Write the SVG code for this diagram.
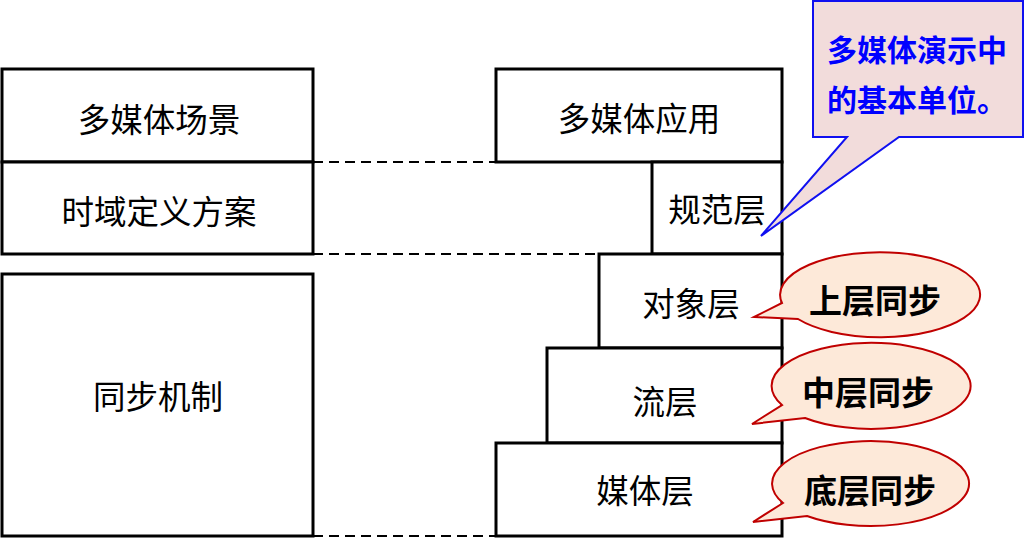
<svg xmlns="http://www.w3.org/2000/svg" width="1024" height="539" viewBox="0 0 1024 539">
<style>
.box{fill:#fff;stroke:#000;stroke-width:3}
.lbl{font-family:"Noto Sans CJK SC",sans-serif;font-size:32.5px;fill:#000;text-anchor:middle;dominant-baseline:central}
.dash{stroke:#000;stroke-width:2;stroke-dasharray:10 6;fill:none}
.bubble{fill:#FDE9D9;stroke:#C00000;stroke-width:2}
.btxt{font-family:"Noto Sans CJK SC",sans-serif;font-size:33px;font-weight:bold;fill:#000;text-anchor:middle;dominant-baseline:central}
.note{fill:#F2DCDB;stroke:#1010F0;stroke-width:2}
.ntxt{font-family:"Noto Sans CJK SC",sans-serif;font-size:30px;font-weight:bold;fill:#0000FF}
</style>
<rect width="1024" height="539" fill="#fff"/>
<g id="connectors">
<line class="dash" x1="313" y1="162" x2="496" y2="162"/>
<line class="dash" x1="313" y1="254" x2="599" y2="254"/>
<line class="dash" x1="313" y1="536" x2="496" y2="536"/>
</g>
<g id="scene"><rect class="box" x="2" y="69" width="311" height="93"/><text class="lbl" x="159" y="117">多媒体场景</text></g>
<g id="timedef"><rect class="box" x="2" y="162" width="311" height="92"/><text class="lbl" x="159" y="209">时域定义方案</text></g>
<g id="sync"><rect class="box" x="2" y="274" width="311" height="262"/><text class="lbl" x="158" y="394">同步机制</text></g>
<g id="app"><rect class="box" x="496" y="69" width="286" height="93"/><text class="lbl" x="639" y="116">多媒体应用</text></g>
<g id="spec"><rect class="box" x="652" y="162" width="130" height="92"/><text class="lbl" x="717" y="207">规范层</text></g>
<g id="object"><rect class="box" x="599" y="254" width="183" height="94"/><text class="lbl" x="691" y="301">对象层</text></g>
<g id="stream"><rect class="box" x="547" y="348" width="235" height="95"/><text class="lbl" x="665" y="399">流层</text></g>
<g id="media"><rect class="box" x="496" y="443" width="286" height="93"/><text class="lbl" x="645" y="488">媒体层</text></g>
<g id="note-unit">
<path class="note" d="M813,1 H1023 V137 H899 L761,236 L847,137 H813 Z"/>
<text class="ntxt" x="827" y="61">多媒体演示中</text>
<text class="ntxt" x="827" y="111">的基本单位。</text>
</g>
<g id="bubble-upper">
<path class="bubble" d="M782,303 A100,42.5 0 1 1 798,319 L754,317 Z"/>
<text class="btxt" x="875" y="299">上层同步</text>
</g>
<g id="bubble-middle">
<path class="bubble" d="M782,405 A99.5,43 0 1 1 805,418 L752,424 Z"/>
<text class="btxt" x="868" y="391">中层同步</text>
</g>
<g id="bubble-bottom">
<path class="bubble" d="M783,503 A98.5,42.5 0 1 1 807,516 L753,522 Z"/>
<text class="btxt" x="870" y="489">底层同步</text>
</g>
</svg>
